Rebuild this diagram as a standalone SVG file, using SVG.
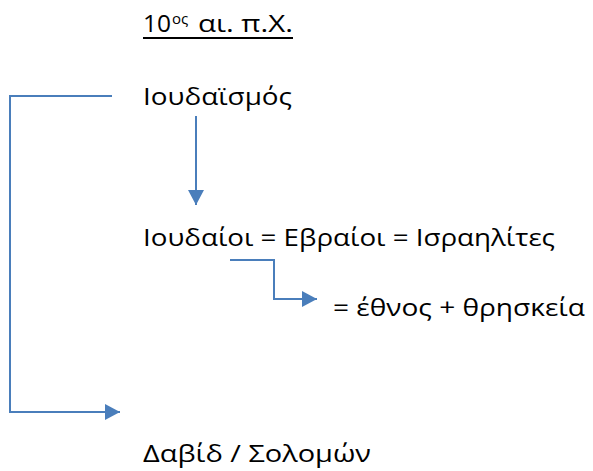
<svg xmlns="http://www.w3.org/2000/svg" width="593" height="471" viewBox="0 0 593 471">
<style>
text{font-family:"Open Sans","Noto Sans","Liberation Sans",sans-serif;font-size:24.5px;fill:#000}
.c{fill:none;stroke:#4a7ebb;stroke-width:2}
</style>
<defs>
<marker id="ah" markerUnits="userSpaceOnUse" markerWidth="16" markerHeight="16" refX="15" refY="8" orient="auto">
<path d="M0,0 L15,8 L0,16 Z" fill="#4a7ebb"/>
</marker>
</defs>
<rect width="593" height="471" fill="#fff"/>
<g id="title">
<text y="32"><tspan x="143">10</tspan><tspan x="172" y="24" font-size="15">ος</tspan><tspan x="198" y="32" textLength="95" lengthAdjust="spacingAndGlyphs">αι. π.Χ.</tspan></text>
<line x1="143" y1="38" x2="293" y2="38" stroke="#000" stroke-width="2"/>
</g>
<g id="ioudaismos"><text x="143" y="105" textLength="149" lengthAdjust="spacingAndGlyphs">Ιουδαϊσμός</text></g>
<g id="ioudaioi"><text x="143" y="246" textLength="412" lengthAdjust="spacingAndGlyphs">Ιουδαίοι = Εβραίοι = Ισραηλίτες</text></g>
<g id="ethnos"><text x="333" y="316" textLength="252" lengthAdjust="spacingAndGlyphs">= έθνος + θρησκεία</text></g>
<g id="david"><text x="143" y="462" textLength="228" lengthAdjust="spacingAndGlyphs">Δαβίδ  / Σολομών</text></g>
<g id="connectors">
<polyline class="c" points="112,96 10,96 10,412 120,412" marker-end="url(#ah)"/>
<line class="c" x1="196" y1="116" x2="196" y2="205" marker-end="url(#ah)"/>
<polyline class="c" points="230,260 274,260 274,299 317,299" marker-end="url(#ah)"/>
</g>
</svg>
